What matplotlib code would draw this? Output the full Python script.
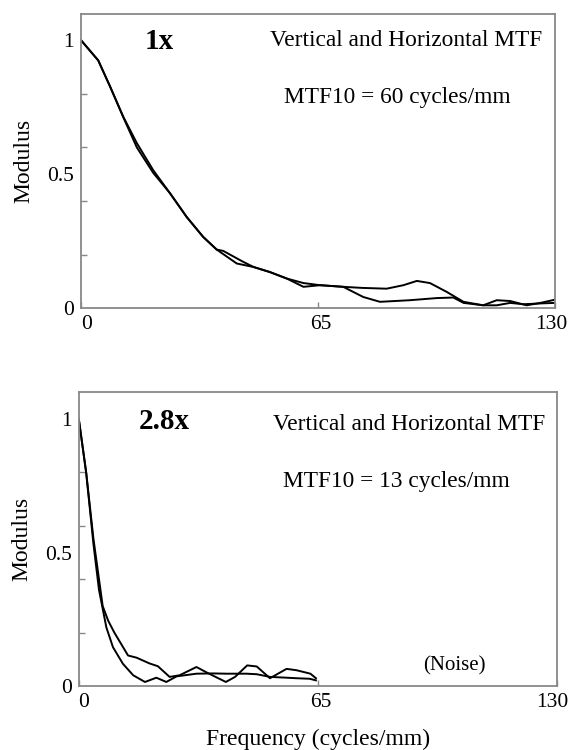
import matplotlib
matplotlib.use("Agg")
import matplotlib.pyplot as plt
import matplotlib.transforms as mtransforms
from matplotlib.ticker import FixedLocator

plt.rcParams['font.family'] = ['Liberation Serif', 'DejaVu Serif']

# 1x zoom: vertical / horizontal MTF curves
freq_1x_a = [0, 4.7, 8, 11.6, 15.3, 19.8, 24.4, 29, 33.5, 37.2, 39, 44.5, 47.3, 51.8, 56.4, 61,
             65.6, 71.9, 77, 83.8, 88.4, 92.1, 95.7, 100.3, 104.9, 110.3, 114, 117.7, 122.2, 126, 130]
mtf_1x_a = [1.0, 0.925, 0.826, 0.714, 0.616, 0.515, 0.429, 0.34, 0.266, 0.219, 0.214, 0.173, 0.154,
            0.135, 0.111, 0.094, 0.086, 0.08, 0.076, 0.073, 0.086, 0.102, 0.094, 0.061, 0.024, 0.011,
            0.03, 0.027, 0.011, 0.02, 0.032]
freq_1x_b = [0, 4.7, 8, 11.6, 15.3, 19.8, 24.4, 29, 33.5, 37.2, 42.7, 47.3, 51.8, 56.4, 61, 65.6,
             71.9, 77.4, 82, 90.2, 97.6, 102.1, 104.9, 110.3, 114, 117.7, 121.3, 126, 130]
mtf_1x_b = [1.0, 0.925, 0.826, 0.712, 0.6, 0.505, 0.429, 0.34, 0.266, 0.219, 0.167, 0.154, 0.135,
            0.111, 0.08, 0.086, 0.08, 0.042, 0.024, 0.03, 0.038, 0.04, 0.02, 0.011, 0.011, 0.02,
            0.015, 0.018, 0.02]

# 2.8x zoom
freq_28x_a = [0, 2, 4, 5.5, 6.5, 7.5, 9.3, 12, 14.8, 18, 21.1, 23.8, 26.6, 32, 36.5, 40.2, 45.6,
              48.4, 52, 56.5, 59.2, 62.8, 64.5]
mtf_28x_a = [1.0, 0.8, 0.53, 0.36, 0.29, 0.22, 0.146, 0.084, 0.041, 0.016, 0.032, 0.016, 0.037,
             0.047, 0.048, 0.047, 0.047, 0.045, 0.035, 0.032, 0.03, 0.028, 0.022]
freq_28x_b = [0, 2, 4, 5.7, 6.5, 8, 9.7, 13.4, 15.7, 19.3, 21.5, 24.7, 27.4, 32, 35, 40, 42.5,
              45.8, 48.4, 52, 56.5, 59.2, 63, 64.5]
mtf_28x_b = [1.0, 0.8, 0.55, 0.38, 0.3, 0.245, 0.2, 0.115, 0.107, 0.085, 0.075, 0.035, 0.041,
             0.072, 0.05, 0.016, 0.035, 0.078, 0.074, 0.03, 0.065, 0.06, 0.047, 0.03]

xticks = [0, 65, 130]
yticks = [0, 0.5, 1]
yticks_minor = [0.2, 0.4, 0.6, 0.8]

panels = [
    dict(rect=[0.142, 0.589, 0.830, 0.393], curves=[(freq_1x_a, mtf_1x_a), (freq_1x_b, mtf_1x_b)],
         zoom="1x", zoom_xy=(0.165, 0.905), title_xy=(0.686, 0.908),
         mtf10="MTF10 = 60 cycles/mm", mtf10_xy=(0.667, 0.715), xlabel=None),
    dict(rect=[0.138, 0.085, 0.837, 0.392], curves=[(freq_28x_a, mtf_28x_a), (freq_28x_b, mtf_28x_b)],
         zoom="2.8x", zoom_xy=(0.178, 0.901), title_xy=(0.692, 0.891),
         mtf10="MTF10 = 13 cycles/mm", mtf10_xy=(0.665, 0.697), xlabel="Frequency (cycles/mm)"),
]


def main():
    fig = plt.figure(figsize=(5.71, 7.5), dpi=100)

    for p in panels:
        ax = fig.add_axes(p["rect"])
        for fx, fy in p["curves"]:
            ax.plot(fx, fy, color="black", lw=1.4)

        ax.set_xlim(0, 130)
        ax.set_ylim(0, 1.1)
        ax.set_xticks(xticks)
        ax.set_xticklabels([str(t) for t in xticks])
        ax.set_yticks(yticks)
        ax.set_yticklabels(["0", "0.5", "1"])
        ax.yaxis.set_minor_locator(FixedLocator(yticks_minor))
        ax.tick_params(axis="x", direction="in", length=4, width=1, color="#888888",
                       labelsize=15.5, pad=5)
        ax.tick_params(axis="y", which="major", length=0, labelsize=15.5, pad=5)
        ax.tick_params(axis="y", which="minor", direction="in", length=4, width=1, color="#888888")
        for s in ax.spines.values():
            s.set_color("#888888")
            s.set_linewidth(1.3)

        # nudge the end labels a little, as in the original figure
        lbls = ax.get_xticklabels()
        for lbl, dx in zip(lbls, [5, 3, -4]):
            lbl.set_transform(lbl.get_transform() + mtransforms.ScaledTranslation(dx / 100, 0, fig.dpi_scale_trans))

        ax.set_ylabel("Modulus", fontsize=17)
        ax.yaxis.set_label_coords(-0.098, 0.5)
        if p["xlabel"]:
            ax.set_xlabel(p["xlabel"], fontsize=17)
            ax.xaxis.set_label_coords(0.5, -0.145)

        ax.text(*p["zoom_xy"], p["zoom"], transform=ax.transAxes, fontsize=21,
                fontweight="bold", ha="center", va="center")
        ax.text(*p["title_xy"], "Vertical and Horizontal MTF", transform=ax.transAxes,
                fontsize=16.8, ha="center", va="center")
        ax.text(*p["mtf10_xy"], p["mtf10"], transform=ax.transAxes, fontsize=16.8,
                ha="center", va="center")

    axes = fig.get_axes()
    axes[1].text(0.785, 0.071, "(Noise)", transform=axes[1].transAxes, fontsize=15,
                 ha="center", va="center")

    fig.savefig("out.png", dpi=100)


if __name__ == "__main__":
    main()
